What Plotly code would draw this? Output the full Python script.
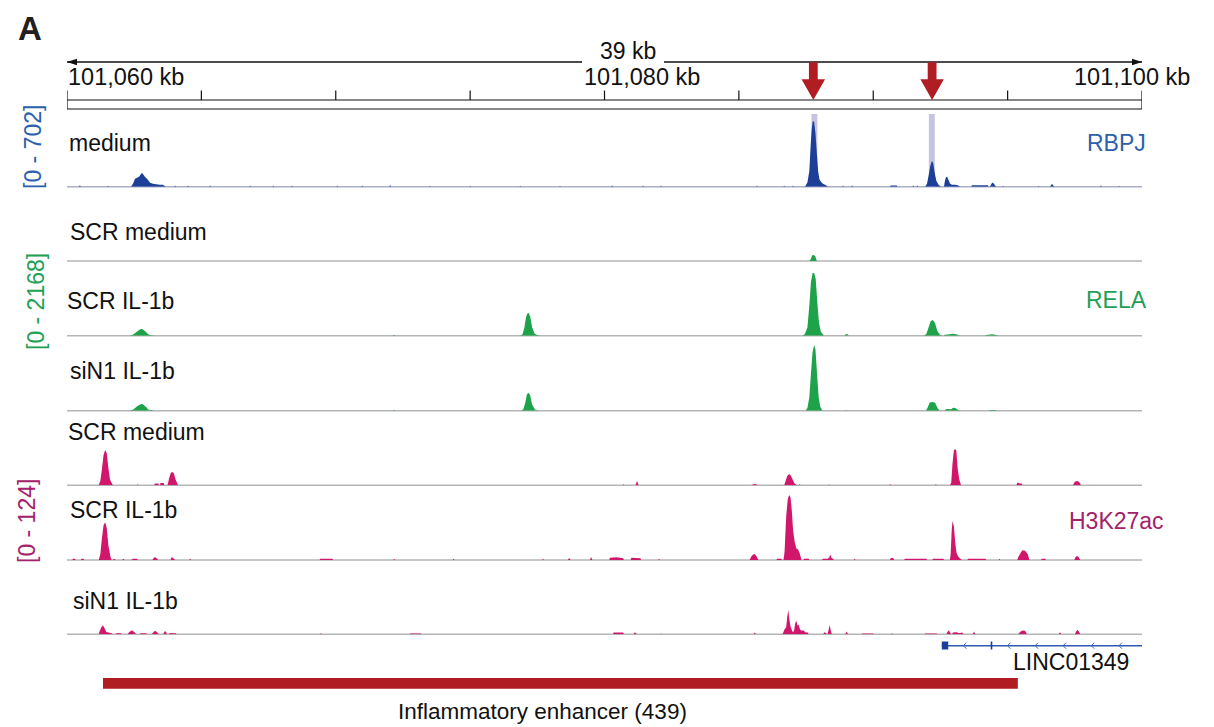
import plotly.graph_objects as go

# ---------------------------------------------------------------- figure size
# the page adds an 8px body margin; the figure is sized so that it fills the window
PAGE_PAD = 8
W, H = 1214 - PAGE_PAD, 727 - PAGE_PAD
ML, MR = 67 - PAGE_PAD, 72
FONT = "Liberation Sans, Arial, Helvetica, sans-serif"

# ---------------------------------------------------------------- locus / ruler
START_KB = 101060.0
END_KB = 101100.0
SPAN_TEXT = "39 kb"
RULER_TICKS_KB = [101060, 101065, 101070, 101075, 101080, 101085, 101090, 101095, 101100]
RULER_LABEL_KB = [101060, 101080, 101100]
RULER_LABELS = ["101,060 kb", "101,080 kb", "101,100 kb"]

ARROW_KB = [101087.77, 101092.19]
HIGHLIGHT_KB = [(101087.70, 101087.92), (101092.07, 101092.29)]

# ---------------------------------------------------------------- coverage data
# (offset in kb from START_KB, signal)
RBPJ_MEDIUM = [
    (0.44, 0), (0.48, 15), (0.52, 0),
    (1.50, 0), (1.53, 10), (1.57, 0),
    (2.38, 0), (2.46, 30), (2.53, 78), (2.68, 98), (2.79, 137), (2.90, 98), (3.01, 68),
    (3.09, 39), (3.20, 29), (3.31, 24), (3.46, 20), (3.57, 20), (3.68, 0),
    (4.00, 0), (4.02, 12), (4.06, 0),
    (4.47, 0), (4.50, 12), (4.54, 0),
    (5.30, 0), (5.32, 15), (5.36, 0),
    (6.79, 0), (6.81, 12), (6.85, 0),
    (7.65, 0), (7.67, 12), (7.71, 0),
    (8.35, 0), (8.37, 12), (8.41, 0),
    (10.03, 0), (10.05, 12), (10.09, 0),
    (10.96, 0), (10.98, 12), (11.02, 0),
    (12.00, 0), (12.02, 18), (12.06, 0),
    (13.48, 0), (13.50, 10), (13.54, 0),
    (14.98, 0), (15.00, 10), (15.04, 0),
    (16.84, 0), (16.86, 10), (16.90, 0),
    (18.32, 0), (18.34, 10), (18.38, 0),
    (20.26, 0), (20.28, 15), (20.32, 0),
    (21.41, 0), (21.43, 12), (21.47, 0),
    (22.08, 0), (22.10, 12), (22.14, 0),
    (25.65, 0), (25.67, 12), (25.71, 0),
    (26.66, 0), (26.68, 12), (26.72, 0),
    (26.99, 0), (27.01, 12), (27.05, 0),
    (27.46, 0), (27.55, 40), (27.62, 150), (27.67, 400), (27.71, 560), (27.75, 640),
    (27.80, 630), (27.85, 520), (27.90, 330), (27.95, 150), (28.00, 70), (28.06, 45),
    (28.13, 29), (28.24, 15), (28.32, 0),
    (28.85, 0), (28.87, 12), (28.91, 0),
    (29.19, 0), (29.21, 15), (29.25, 0),
    (30.62, 0), (30.65, 12), (30.88, 12), (30.90, 0),
    (31.46, 0), (31.48, 15), (31.52, 0),
    (31.61, 0), (31.63, 15), (31.67, 0),
    (31.93, 0), (32.00, 29), (32.06, 110), (32.12, 200), (32.18, 250), (32.23, 230),
    (32.29, 130), (32.35, 55), (32.43, 20), (32.52, 0),
    (32.63, 0), (32.67, 60), (32.71, 95), (32.75, 98), (32.80, 65), (32.86, 29), (32.93, 20),
    (33.04, 20), (33.15, 15), (33.23, 0),
    (33.65, 0), (33.67, 15), (34.27, 15), (34.29, 0),
    (34.34, 0), (34.40, 29), (34.44, 42), (34.49, 29), (34.57, 0),
    (34.81, 0), (34.83, 10), (34.87, 0),
    (36.13, 0), (36.15, 10), (36.19, 0),
    (36.58, 0), (36.65, 29), (36.73, 0),
    (38.45, 0), (38.47, 15), (38.51, 0),
    (39.12, 0), (39.14, 10), (39.18, 0),
]

RELA_SCR_MEDIUM = [
    (27.63, 0), (27.68, 70), (27.73, 170), (27.78, 181), (27.84, 150), (27.90, 0),
]

RELA_SCR_IL1B = [
    (2.34, 0), (2.45, 30), (2.60, 120), (2.72, 195), (2.80, 200), (2.92, 130), (3.02, 40), (3.10, 20), (3.27, 0),
    (12.13, 0), (12.17, 30), (12.21, 0),
    (16.87, 0), (16.95, 40), (17.02, 250), (17.08, 560), (17.13, 670), (17.18, 683), (17.24, 560),
    (17.31, 250), (17.40, 60), (17.50, 20), (17.62, 0),
    (27.36, 0), (27.45, 40), (27.55, 250), (27.62, 900), (27.68, 1600), (27.74, 1880),
    (27.80, 1897), (27.86, 1700), (27.92, 1000), (27.98, 400), (28.05, 120), (28.17, 0),
    (28.93, 0), (28.97, 45), (29.05, 45), (29.09, 0),
    (31.89, 0), (31.98, 60), (32.07, 280), (32.14, 440), (32.22, 473), (32.30, 380),
    (32.38, 150), (32.48, 30), (32.58, 0),
    (32.62, 0), (32.66, 30), (32.85, 40), (32.95, 60), (33.10, 45), (33.21, 0),
    (34.16, 0), (34.20, 20), (34.42, 45), (34.58, 20), (34.66, 0),
]

RELA_SIN1_IL1B = [
    (2.34, 0), (2.48, 40), (2.62, 140), (2.74, 195), (2.82, 200), (2.94, 110), (3.03, 30), (3.12, 20), (3.27, 0),
    (12.13, 0), (12.17, 25), (12.21, 0),
    (16.90, 0), (16.98, 40), (17.05, 230), (17.11, 490), (17.17, 542), (17.23, 470),
    (17.31, 180), (17.42, 30), (17.55, 0),
    (27.48, 0), (27.55, 80), (27.62, 400), (27.68, 1100), (27.74, 1750), (27.80, 1978),
    (27.85, 1850), (27.91, 1100), (27.97, 400), (28.03, 120), (28.11, 0),
    (28.95, 0), (28.99, 20), (29.03, 0),
    (31.96, 0), (32.02, 90), (32.10, 250), (32.20, 262), (32.30, 240), (32.40, 70), (32.48, 0),
    (32.65, 0), (32.70, 40), (32.80, 50), (32.90, 40), (32.97, 90), (33.05, 80), (33.12, 40), (33.21, 0),
    (34.30, 0), (34.35, 20), (34.55, 20), (34.60, 0),
]

H3K27AC_SCR_MEDIUM = [
    (1.18, 0), (1.24, 8), (1.30, 28), (1.36, 52), (1.42, 61), (1.48, 55), (1.54, 30),
    (1.60, 10), (1.66, 4), (1.71, 0),
    (2.60, 0), (2.63, 2), (2.67, 0),
    (3.25, 0), (3.27, 3), (3.40, 3), (3.42, 0),
    (3.46, 0), (3.48, 4), (3.60, 4), (3.62, 0),
    (3.74, 0), (3.80, 12), (3.86, 21), (3.91, 23), (3.97, 21), (4.04, 10), (4.13, 0),
    (20.68, 0), (20.71, 2), (20.75, 0),
    (21.15, 0), (21.21, 7.4), (21.27, 0),
    (25.50, 0), (25.52, 2), (25.66, 2), (25.68, 0),
    (26.69, 0), (26.74, 8), (26.80, 16), (26.87, 19.5), (26.93, 17), (27.00, 10), (27.07, 3), (27.16, 0),
    (27.22, 0), (27.26, 2), (27.30, 0),
    (28.33, 0), (28.35, 2), (28.39, 0),
    (30.60, 0), (30.64, 2), (30.68, 0),
    (32.29, 0), (32.33, 2), (32.37, 0),
    (32.85, 0), (32.90, 4), (32.95, 38), (33.00, 60), (33.04, 62.5), (33.09, 60),
    (33.14, 30), (33.20, 10), (33.27, 0),
    (35.33, 0), (35.36, 5), (35.45, 3), (35.52, 3), (35.56, 0),
    (37.43, 0), (37.50, 6), (37.58, 7.4), (37.66, 6), (37.73, 0),
]

H3K27AC_SCR_IL1B = [
    (0.20, 0), (0.22, 2), (0.30, 2), (0.32, 0),
    (0.52, 0), (0.54, 2), (0.62, 2), (0.64, 0),
    (1.18, 0), (1.24, 10), (1.30, 38), (1.36, 60), (1.42, 65), (1.48, 55), (1.54, 25), (1.62, 5), (1.66, 0),
    (1.70, 0), (1.75, 2), (1.82, 0),
    (2.05, 0), (2.10, 2), (2.14, 0),
    (2.40, 0), (2.45, 2), (2.60, 2), (2.64, 0),
    (3.18, 0), (3.22, 3), (3.27, 5), (3.33, 3), (3.40, 0),
    (3.85, 0), (3.90, 5), (3.96, 3), (4.02, 0),
    (4.55, 0), (4.58, 2), (4.62, 0),
    (9.40, 0), (9.42, 2), (9.88, 2), (9.90, 0),
    (12.15, 0), (12.17, 2), (12.21, 0),
    (14.36, 0), (14.38, 2), (14.42, 0),
    (17.69, 0), (17.71, 2), (17.75, 0),
    (18.64, 0), (18.68, 3.4), (18.74, 0),
    (19.46, 0), (19.50, 5), (19.55, 0),
    (20.18, 0), (20.20, 4), (20.45, 4.6), (20.70, 3), (20.72, 0),
    (20.97, 0), (21.00, 4), (21.34, 3), (21.36, 0),
    (22.00, 0), (22.02, 2), (22.06, 0),
    (25.40, 0), (25.45, 5), (25.52, 9), (25.58, 10.3), (25.65, 7), (25.73, 0),
    (26.40, 0), (26.42, 2), (26.58, 2), (26.60, 0),
    (26.66, 0), (26.70, 14), (26.76, 75), (26.82, 105), (26.87, 112), (26.92, 108),
    (26.97, 85), (27.02, 50), (27.08, 30), (27.14, 20), (27.20, 18), (27.26, 12), (27.33, 0),
    (27.40, 0), (27.42, 2), (27.60, 2), (27.62, 0),
    (28.10, 0), (28.12, 2), (28.30, 2), (28.36, 4), (28.40, 10), (28.44, 4), (28.50, 2), (28.54, 0),
    (29.28, 0), (29.30, 2), (29.34, 0),
    (30.62, 0), (30.66, 3.4), (30.74, 3.4), (30.78, 0),
    (31.15, 0), (31.18, 2), (31.98, 2), (32.00, 0),
    (32.20, 0), (32.22, 2), (32.60, 2), (32.65, 0),
    (32.85, 0), (32.88, 10), (32.92, 52), (32.95, 67), (33.00, 58), (33.05, 30), (33.10, 12),
    (33.16, 6), (33.22, 3), (33.30, 0),
    (33.50, 0), (33.53, 2), (34.18, 2), (34.20, 0),
    (34.67, 0), (34.69, 2), (34.73, 0),
    (35.36, 0), (35.40, 5), (35.48, 12), (35.55, 17), (35.65, 16), (35.75, 10), (35.81, 0),
    (36.24, 0), (36.28, 2), (36.40, 2), (36.42, 0),
    (37.48, 0), (37.53, 5), (37.58, 7), (37.64, 5), (37.70, 0),
]

H3K27AC_SIN1_IL1B = [
    (1.18, 0), (1.22, 6), (1.28, 12), (1.34, 15.5), (1.40, 10), (1.46, 4), (1.55, 3), (1.65, 2), (1.71, 0),
    (1.80, 0), (1.84, 2), (2.00, 2), (2.04, 0),
    (2.25, 0), (2.32, 4), (2.42, 7), (2.50, 4), (2.57, 0),
    (2.70, 0), (2.74, 2), (2.95, 2), (2.98, 0),
    (3.15, 0), (3.22, 4), (3.28, 6), (3.36, 3), (3.42, 0),
    (3.58, 0), (3.63, 5), (3.68, 5), (3.72, 0),
    (3.78, 0), (3.80, 2), (4.05, 2), (4.08, 0),
    (9.42, 0), (9.45, 2), (9.50, 0),
    (12.74, 0), (12.76, 1.5), (13.17, 1.5), (13.19, 0),
    (20.32, 0), (20.34, 3), (20.70, 3), (20.72, 0),
    (21.08, 0), (21.13, 3.4), (21.20, 0),
    (22.07, 0), (22.09, 1.5), (22.13, 0),
    (25.55, 0), (25.59, 3), (25.64, 0),
    (26.62, 0), (26.66, 4), (26.70, 8.6), (26.76, 12), (26.80, 30), (26.84, 41.8), (26.88, 25),
    (26.92, 13.8), (26.98, 6), (27.02, 3), (27.06, 8), (27.10, 20), (27.14, 23), (27.18, 15),
    (27.22, 17), (27.28, 8), (27.34, 6), (27.40, 7), (27.48, 3), (27.55, 3.4), (27.60, 0),
    (28.14, 0), (28.18, 3.4), (28.24, 2), (28.28, 0),
    (28.30, 0), (28.34, 8), (28.38, 16), (28.42, 6), (28.46, 0),
    (28.96, 0), (29.01, 5), (29.06, 0),
    (29.58, 0), (29.60, 1.5), (30.00, 1.5), (30.02, 0),
    (30.66, 0), (30.69, 2), (30.74, 0),
    (31.90, 0), (31.93, 1.5), (32.36, 1.5), (32.38, 0),
    (32.72, 0), (32.76, 4), (32.80, 7), (32.86, 3), (32.90, 0),
    (32.94, 0), (32.96, 3), (33.10, 3.4), (33.20, 2), (33.30, 3), (33.38, 0),
    (33.70, 0), (33.75, 5), (33.80, 0),
    (35.40, 0), (35.46, 4), (35.55, 6.4), (35.65, 6), (35.72, 0),
    (36.90, 0), (36.95, 3.4), (37.00, 0),
    (37.50, 0), (37.55, 5), (37.60, 8), (37.66, 4), (37.70, 0),
]

# ---------------------------------------------------------------- gene & enhancer
GENE_NAME = "LINC01349"
GENE_SPAN_OFF = (32.55, 40.0)
GENE_EXONS_OFF = [(32.55, 32.79), (34.37, 34.43)]
GENE_STRAND_MARKS_OFF = [33.39, 35.03, 36.06, 37.10, 38.15, 39.18]

ENHANCER_OFF = (1.34, 35.38)
ENHANCER_TEXT = "Inflammatory enhancer (439)"

# ---------------------------------------------------------------- colours
BLUE = "#1e3f98"
BLUE_TXT = "#2c5fad"
GREEN = "#1fa34a"
GREEN_TXT = "#22a054"
MAGENTA = "#d0176c"
MAGENTA_TXT = "#a3226a"
RED = "#b01e24"
HILITE = "#c4c4e2"
GRAY = "#b5b5b5"

# ---------------------------------------------------------------- tracks
TRACKS = [
    dict(label="medium", data=RBPJ_MEDIUM, vmax=702, color=BLUE, base=186.7, lab_y=143, lab_x=67,
         baseline="#aab0c8"),
    dict(label="SCR medium", data=RELA_SCR_MEDIUM, vmax=2168, color=GREEN, base=261.0, lab_y=232, lab_x=68,
         baseline=GRAY),
    dict(label="SCR IL-1b", data=RELA_SCR_IL1B, vmax=2168, color=GREEN, base=335.7, lab_y=301, lab_x=65,
         baseline=GRAY),
    dict(label="siN1 IL-1b", data=RELA_SIN1_IL1B, vmax=2168, color=GREEN, base=410.7, lab_y=371, lab_x=68,
         baseline=GRAY),
    dict(label="SCR medium", data=H3K27AC_SCR_MEDIUM, vmax=124, color=MAGENTA, base=485.3, lab_y=432, lab_x=66,
         baseline=GRAY),
    dict(label="SCR IL-1b", data=H3K27AC_SCR_IL1B, vmax=124, color=MAGENTA, base=560.0, lab_y=510, lab_x=68,
         baseline=GRAY),
    dict(label="siN1 IL-1b", data=H3K27AC_SIN1_IL1B, vmax=124, color=MAGENTA, base=634.3, lab_y=601, lab_x=71,
         baseline=GRAY),
]
TRACK_H = 72.0

GROUPS = [
    dict(name="RBPJ", scale="[0 - 702]", color=BLUE_TXT, name_right=1148, name_y=143, scale_x=33, scale_y=147),
    dict(name="RELA", scale="[0 - 2168]", color=GREEN_TXT, name_right=1149, name_y=300, scale_x=36, scale_y=302),
    dict(name="H3K27ac", scale="[0 - 124]", color=MAGENTA_TXT, name_right=1166, name_y=521, scale_x=27, scale_y=521),
]


def fx(px):
    # px: horizontal position in window pixels
    return (px - PAGE_PAD - ML) / (W - ML - MR)


def fy(py):
    # py: vertical position in window pixels
    return 1 - (py - PAGE_PAD) / H


def kb(off):
    return START_KB + off


fig = go.Figure()
layout_axes = {}
shapes = []
annotations = []

for i, t in enumerate(TRACKS):
    yname = "y" if i == 0 else f"y{i + 1}"
    lname = "yaxis" if i == 0 else f"yaxis{i + 1}"
    xs = [kb(p[0]) for p in t["data"]]
    ys = [p[1] for p in t["data"]]
    fig.add_trace(go.Scatter(
        x=xs, y=ys, xaxis="x", yaxis=yname, mode="none", fill="tozeroy",
        fillcolor=t["color"], hoverinfo="skip", showlegend=False,
    ))
    layout_axes[lname] = dict(
        domain=[fy(t["base"]), fy(t["base"] - TRACK_H)], range=[0, t["vmax"]],
        visible=False, anchor="x", fixedrange=True,
    )
    shapes.append(dict(type="line", xref="x", yref="paper", x0=START_KB, x1=END_KB,
                       y0=fy(t["base"]), y1=fy(t["base"]),
                       line=dict(color=t["baseline"], width=1.6), layer="below"))
    annotations.append(dict(text=t["label"], xref="paper", yref="paper", x=fx(t["lab_x"]), y=fy(t["lab_y"]),
                            xanchor="left", yanchor="middle", showarrow=False,
                            font=dict(family=FONT, size=23, color="#111111")))

for g in GROUPS:
    annotations.append(dict(text=g["name"], xref="paper", yref="paper", x=fx(g["name_right"]), y=fy(g["name_y"]),
                            xanchor="right", yanchor="middle", showarrow=False,
                            font=dict(family=FONT, size=23, color=g["color"])))
    annotations.append(dict(text=g["scale"], xref="paper", yref="paper", x=fx(g["scale_x"]), y=fy(g["scale_y"]),
                            xanchor="center", yanchor="middle", showarrow=False, textangle=-90,
                            font=dict(family=FONT, size=23, color=g["color"])))

# highlight bands behind RBPJ peaks
for a, b in HIGHLIGHT_KB:
    shapes.append(dict(type="rect", xref="x", yref="paper", x0=a, x1=b, y0=fy(186.7), y1=fy(114),
                       fillcolor=HILITE, line=dict(width=0), layer="below"))

# ruler: span line with arrow heads (gap left for the span text)
LINE_Y = 62
shapes.append(dict(type="line", xref="paper", yref="paper", x0=fx(67), x1=fx(582),
                   y0=fy(LINE_Y), y1=fy(LINE_Y), line=dict(color="#111111", width=1.3)))
shapes.append(dict(type="line", xref="paper", yref="paper", x0=fx(664), x1=fx(1142),
                   y0=fy(LINE_Y), y1=fy(LINE_Y), line=dict(color="#111111", width=1.3)))
shapes.append(dict(type="path", xref="x", yref="paper", xsizemode="pixel", ysizemode="pixel",
                   xanchor=START_KB, yanchor=fy(LINE_Y), path="M0,0 L10,3.2 L10,-3.2 Z",
                   fillcolor="#111111", line=dict(width=0)))
shapes.append(dict(type="path", xref="x", yref="paper", xsizemode="pixel", ysizemode="pixel",
                   xanchor=END_KB, yanchor=fy(LINE_Y), path="M0,0 L-10,3.2 L-10,-3.2 Z",
                   fillcolor="#111111", line=dict(width=0)))
annotations.append(dict(text=SPAN_TEXT, xref="paper", yref="paper", x=fx(628), y=fy(51),
                        xanchor="center", yanchor="middle", showarrow=False,
                        font=dict(family=FONT, size=23, color="#111111")))

# ruler box + ticks
shapes.append(dict(type="rect", xref="x", yref="paper", x0=START_KB, x1=END_KB, y0=fy(109), y1=fy(100),
                   line=dict(color="#111111", width=1.2), fillcolor="rgba(0,0,0,0)"))
for tk in RULER_TICKS_KB:
    shapes.append(dict(type="line", xref="x", yref="paper", x0=tk, x1=tk, y0=fy(100), y1=fy(90.5),
                       line=dict(color="#111111", width=1.2)))
LABEL_ANCHOR = ["left", "center", "right"]
LABEL_SHIFT = [-1, 37, 50]
for pos, txt, anc, sh in zip(RULER_LABEL_KB, RULER_LABELS, LABEL_ANCHOR, LABEL_SHIFT):
    annotations.append(dict(text=txt, xref="x", yref="paper", x=pos, y=fy(77), xanchor=anc, xshift=sh,
                            yanchor="middle", showarrow=False,
                            font=dict(family=FONT, size=23.5, color="#111111")))

# red arrows
for a in ARROW_KB:
    shapes.append(dict(type="path", xref="x", yref="paper", xsizemode="pixel", ysizemode="pixel",
                       xanchor=a, yanchor=fy(100),
                       path="M0,0 L-11.75,20.7 L-4.4,20.7 L-4.4,37.8 L4.4,37.8 L4.4,20.7 L11.75,20.7 Z",
                       fillcolor=RED, line=dict(width=0)))

# gene model
GENE_Y = 645.7
shapes.append(dict(type="line", xref="x", yref="paper", x0=kb(GENE_SPAN_OFF[0]), x1=kb(GENE_SPAN_OFF[1]),
                   y0=fy(GENE_Y), y1=fy(GENE_Y), line=dict(color="#2e5bb0", width=1.6)))
for a, b in GENE_EXONS_OFF:
    shapes.append(dict(type="rect", xref="x", yref="paper", x0=kb(a), x1=kb(b), y0=fy(649.5), y1=fy(641.5),
                       fillcolor=BLUE, line=dict(width=0)))
for c in GENE_STRAND_MARKS_OFF:
    shapes.append(dict(type="path", xref="x", yref="paper", xsizemode="pixel", ysizemode="pixel",
                       xanchor=kb(c), yanchor=fy(GENE_Y), path="M2,3 L-1,0 L2,-3",
                       line=dict(color="#3a68bd", width=1)))
annotations.append(dict(text=GENE_NAME, xref="paper", yref="paper", x=fx(1131), y=fy(662),
                        xanchor="right", yanchor="middle", showarrow=False,
                        font=dict(family=FONT, size=23, color="#111111")))

# enhancer bar
shapes.append(dict(type="rect", xref="x", yref="paper", x0=kb(ENHANCER_OFF[0]), x1=kb(ENHANCER_OFF[1]),
                   y0=fy(688.7), y1=fy(678), fillcolor=RED, line=dict(width=0)))
annotations.append(dict(text=ENHANCER_TEXT, xref="paper", yref="paper", x=fx(542), y=fy(711),
                        xanchor="center", yanchor="middle", showarrow=False,
                        font=dict(family=FONT, size=22.5, color="#111111")))

# panel letter
annotations.append(dict(text="<b>A</b>", xref="paper", yref="paper", x=fx(29.5), y=fy(28.5),
                        xanchor="center", yanchor="middle", showarrow=False,
                        font=dict(family=FONT, size=33, color="#231f20")))

fig.update_layout(
    width=W, height=H,
    margin=dict(l=ML, r=MR, t=0, b=0, pad=0),
    paper_bgcolor="white", plot_bgcolor="rgba(0,0,0,0)",
    showlegend=False,
    xaxis=dict(range=[START_KB, END_KB], visible=False, domain=[0, 1], fixedrange=True, anchor="y"),
    shapes=shapes, annotations=annotations,
    **layout_axes,
)

fig.write_html("out.html")
